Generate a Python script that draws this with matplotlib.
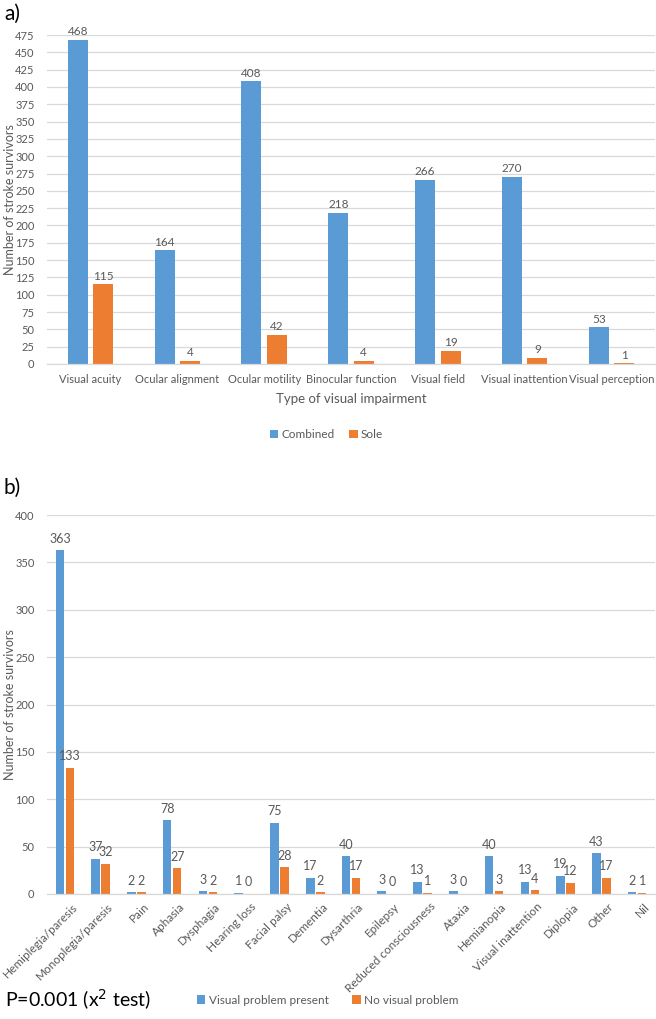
import numpy as np
import matplotlib.pyplot as plt
import matplotlib.transforms as mtransforms

# datos panel a
tipos_a = ["Visual acuity", "Ocular alignment", "Ocular motility", "Binocular function",
           "Visual field", "Visual inattention", "Visual perception"]
combined = [468, 164, 408, 218, 266, 270, 53]
sole = [115, 4, 42, 4, 19, 9, 1]

# datos panel b
tipos_b = ["Hemiplegia/paresis", "Monoplegia/paresis", "Pain", "Aphasia", "Dysphagia",
           "Hearing loss", "Facial palsy", "Dementia", "Dysarthria", "Epilepsy",
           "Reduced consciousness", "Ataxia", "Hemianopia", "Visual inattention",
           "Diplopia", "Other", "Nil"]
presente = [363, 37, 2, 78, 3, 1, 75, 17, 40, 3, 13, 3, 40, 13, 19, 43, 2]
ninguno = [133, 32, 2, 27, 2, 0, 28, 2, 17, 0, 1, 0, 3, 4, 12, 17, 1]

AZUL = "#5B9BD5"
NARANJA = "#ED7D31"
GRIS = "#595959"
GRID = "#D9D9D9"

plt.rcParams['font.family'] = ['Lato', 'DejaVu Sans']

fig = plt.figure(figsize=(6.56, 10.19), dpi=100)


def estilo(ax, ymax, paso):
    ax.set_ylim(0, ymax)
    ax.set_yticks(np.arange(0, ymax + 1, paso))
    ax.yaxis.grid(True, color=GRID, linewidth=0.9)
    ax.set_axisbelow(True)
    for s in ["top", "right", "left"]:
        ax.spines[s].set_visible(False)
    ax.spines["bottom"].set_color(GRID)
    ax.spines["bottom"].set_linewidth(0.9)
    ax.tick_params(axis="both", length=0, colors=GRIS, labelsize=8)
    ax.tick_params(axis="y", pad=9)


# ---- panel a
ax1 = fig.add_axes([47 / 656, 1 - 364 / 1019, 608 / 656, (364 - 35) / 1019])
x = np.arange(len(tipos_a))
w = 0.23
b1 = ax1.bar(x - 0.146, combined, w, color=AZUL, label="Combined")
b2 = ax1.bar(x + 0.146, sole, w, color=NARANJA, label="Sole")
ax1.bar_label(b1, padding=2, fontsize=8.5, color=GRIS)
ax1.bar_label(b2, padding=2, fontsize=8.5, color=GRIS)
ax1.set_xlim(-0.5, len(tipos_a) - 0.5)
estilo(ax1, 475, 25)
ax1.set_xticks(x)
ax1.set_xticklabels(tipos_a)
ax1.tick_params(axis="x", pad=7)
ax1.set_xlabel("Type of visual impairment", fontsize=9.5, color=GRIS, labelpad=6)
ax1.legend(loc="upper center", bbox_to_anchor=(0.46, -0.165), ncol=2, frameon=False,
           fontsize=8.5, labelcolor=GRIS, handlelength=0.7, handleheight=0.7,
           handletextpad=0.3, columnspacing=1.2)
fig.text(10 / 656, 1 - 200 / 1019, "Number of stroke survivors", fontsize=9, color=GRIS,
         rotation=90, ha="center", va="center")
fig.text(0.006, 1 - 14 / 1019, "a)", fontsize=15, color="black", va="center")

# ---- panel b
ax2 = fig.add_axes([47 / 656, 1 - 894 / 1019, 608 / 656, (894 - 515) / 1019])
x2 = np.arange(len(tipos_b))
w2 = 0.24
c1 = ax2.bar(x2 - 0.14, presente, w2, color=AZUL, label="Visual problem present")
c2 = ax2.bar(x2 + 0.14, ninguno, w2, color=NARANJA, label="No visual problem")
ax2.bar_label(c1, padding=4, fontsize=9, color=GRIS)
ax2.bar_label(c2, padding=4, fontsize=9, color=GRIS)
ax2.set_xlim(-0.5, len(tipos_b) - 0.5)
estilo(ax2, 400, 50)
ax2.set_xticks(x2)
ax2.set_xticklabels(tipos_b, rotation=45, ha="right", rotation_mode="anchor", fontsize=8.5)
ax2.tick_params(axis="x", pad=5)
# corre las etiquetas un poco a la derecha
desplaza = mtransforms.ScaledTranslation(5 / 72, 0, fig.dpi_scale_trans)
for lab in ax2.get_xticklabels():
    lab.set_transform(lab.get_transform() + desplaza)
fig.text(10 / 656, 1 - 705 / 1019, "Number of stroke survivors", fontsize=9, color=GRIS,
         rotation=90, ha="center", va="center")
ax2.legend(loc="center", bbox_to_anchor=(328 / 656, 1 - 1000 / 1019), bbox_transform=fig.transFigure,
           ncol=2, frameon=False, fontsize=8.5, labelcolor=GRIS, handlelength=0.7,
           handleheight=0.7, handletextpad=0.3, columnspacing=2.0)
fig.text(0.006, 1 - 488 / 1019, "b)", fontsize=15, color="black", va="center")
fig.text(0.008, 1 - 1000 / 1019, "P=0.001 (x$^2$ test)", fontsize=14, color="black", va="center")

fig.savefig("out.png", dpi=100, facecolor="white")
